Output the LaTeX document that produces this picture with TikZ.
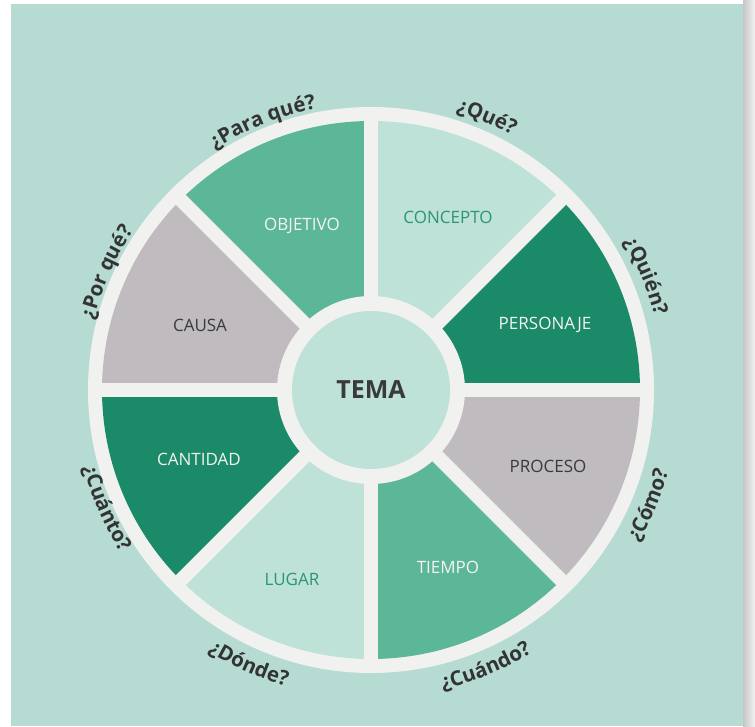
\documentclass[tikz,border=0pt]{standalone}
\usepackage{fontspec}
\setmainfont{Open Sans}
\usetikzlibrary{decorations.text}
\definecolor{bg}{HTML}{B6DBD2}
\definecolor{ring}{HTML}{F1F2F0}
\definecolor{pale}{HTML}{BEE1D8}
\definecolor{mdgreen}{HTML}{5CB698}
\definecolor{dkgreen}{HTML}{1B8A68}
\definecolor{grayseg}{HTML}{BFBBBF}
\definecolor{txtgreen}{HTML}{2A9675}
\definecolor{txtlight}{HTML}{F4F4F0}
\definecolor{txtdark}{HTML}{3A3A3C}
\definecolor{qtext}{HTML}{333335}
\newcommand\qfont{\color{qtext}\bfseries\fontsize{20.5}{24}\selectfont}
\newcommand\toplbl[3]{\path[decorate,decoration={text along path,text align=center,text={|\qfont|#3}}] (#1+45:#2) arc[start angle=#1+45,end angle=#1-45,radius=#2];}
\newcommand\botlbl[3]{\path[decorate,decoration={text along path,text align=center,text={|\qfont|#3}}] (#1-45:#2) arc[start angle=#1-45,end angle=#1+45,radius=#2];}
\tikzset{
  seglabel/.style={font=\fontsize{17}{20}\selectfont, inner sep=0pt},
}
\begin{document}
\begin{tikzpicture}[x=1pt,y=1pt]
\useasboundingbox (0,0) rectangle (755,726);
\fill[white] (0,0) rectangle (755,726);
\fill[bg] (11,0) rectangle (743,722);
\shade[left color=gray!45, right color=white!90!gray] (743,0) rectangle (755,726);
\coordinate (C) at (371,336);
\begin{scope}[shift={(C)}]
  \fill[ring] (0,0) circle[radius=283];
  \foreach \a/\col in {0/dkgreen,45/pale,90/mdgreen,135/grayseg,180/dkgreen,225/pale,270/mdgreen,315/grayseg}
    \fill[\col] (0,0) -- (\a:269) arc[start angle=\a, end angle=\a+45, radius=269] -- cycle;
  \foreach \a in {0,45,...,315}
    \draw[ring, line width=14pt] (0,0) -- (\a:276);
  \fill[ring] (0,0) circle[radius=94];
  \fill[pale] (0,0) circle[radius=79];
  \toplbl{112}{287}{¿Para qué?}
  \toplbl{67}{291}{¿Qué?}
  \toplbl{22.5}{293}{¿Quién?}
  \toplbl{156}{286}{¿Por qué?}
  \botlbl{-22.5}{308}{¿Cómo?}
  \botlbl{-67.5}{308}{¿Cuándo?}
  \botlbl{-114}{308}{¿Dónde?}
  \botlbl{-156}{298}{¿Cuánto?}
\end{scope}
\node[font=\bfseries\fontsize{25}{29}\selectfont, text=txtdark] (tema) at (C) {TEMA};
\node[seglabel, text=txtlight] (objetivo) at (302,500) {OBJETIVO};
\node[seglabel, text=txtgreen] (concepto) at (448,509) {CONCEPTO};
\node[seglabel, text=txtlight] (personaje) at (545,401) {PERSONAJE};
\node[seglabel, text=txtdark] (proceso) at (548,260) {PROCESO};
\node[seglabel, text=txtlight] (tiempo) at (448,159) {TIEMPO};
\node[seglabel, text=txtgreen] (lugar) at (292,147) {LUGAR};
\node[seglabel, text=txtlight] (cantidad) at (199,267) {CANTIDAD};
\node[seglabel, text=txtdark] (causa) at (200,401) {CAUSA};
\end{tikzpicture}
\end{document}
